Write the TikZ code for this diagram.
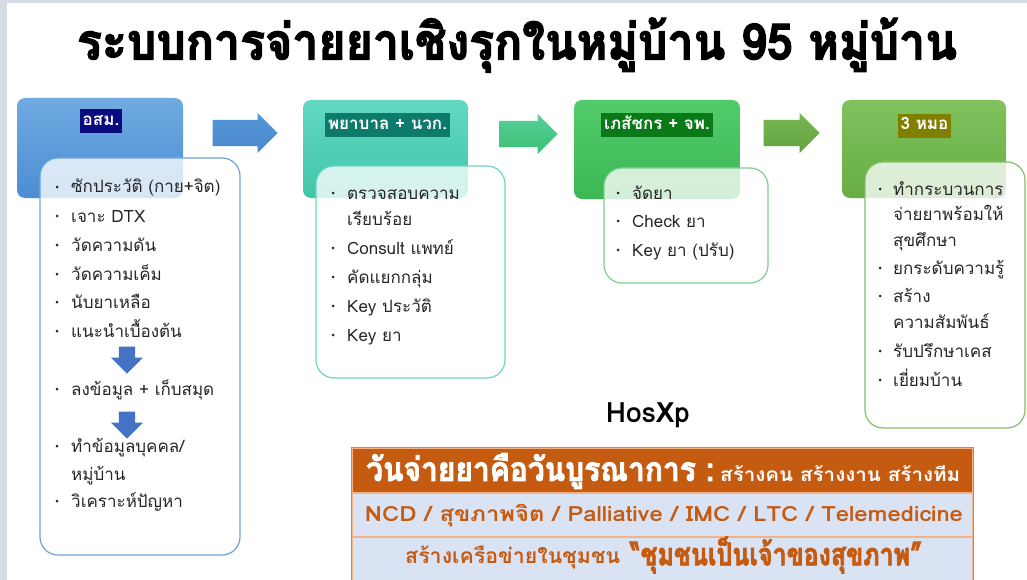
\documentclass[tikz,border=0pt]{standalone}
\usepackage{fontspec}
\setmainfont[Script=Thai]{Loma}
\newfontfamily\heavy[Script=Thai,FakeBold=2.6]{Loma Bold}
\usetikzlibrary{shapes.arrows}
\definecolor{bgframe}{HTML}{D6DCE5}
\definecolor{txt}{HTML}{262626}
\definecolor{b1top}{HTML}{6FAAE2}
\definecolor{b1bot}{HTML}{4C8DD3}
\definecolor{b1line}{HTML}{6FA3DC}
\definecolor{b2top}{HTML}{62D8C2}
\definecolor{b2bot}{HTML}{42C5AA}
\definecolor{b2line}{HTML}{6FD6C2}
\definecolor{b3top}{HTML}{52CB6A}
\definecolor{b3bot}{HTML}{3DB654}
\definecolor{b3line}{HTML}{7CCF8C}
\definecolor{b4top}{HTML}{80C25E}
\definecolor{b4bot}{HTML}{67AD45}
\definecolor{b4line}{HTML}{84C064}
\definecolor{lab1}{HTML}{0B0B80}
\definecolor{lab2}{HTML}{0E7A6C}
\definecolor{lab3}{HTML}{0A7A18}
\definecolor{lab4}{HTML}{7F7F00}
\definecolor{ar1}{HTML}{5597D8}
\definecolor{ar1b}{HTML}{4A88CC}
\definecolor{ar2}{HTML}{56D09A}
\definecolor{ar2b}{HTML}{3DBE74}
\definecolor{ar3}{HTML}{78B852}
\definecolor{ar3b}{HTML}{62A23E}
\definecolor{darr}{HTML}{4472C4}
\definecolor{orD}{HTML}{C55A11}
\definecolor{orL}{HTML}{F4B183}
\definecolor{orE}{HTML}{ED7D31}
\definecolor{rowbg}{HTML}{DAE3F3}
\tikzset{
  hdr/.style={rounded corners=8pt, inner sep=0pt},
  lab/.style={text=white, font=\bfseries\fontsize{17}{20}\selectfont, inner sep=3pt, text height=13pt, text depth=5pt},
  content/.style={rounded corners=18pt, fill=white, fill opacity=0.78, line width=1.2pt, inner sep=0pt},
  itm/.style={anchor=base west, inner sep=0pt, text=txt, font=\fontsize{17}{20}\selectfont},
  bul/.style={circle, fill=txt, inner sep=0pt, minimum size=3pt},
  rarrow/.style={single arrow, anchor=tip, single arrow head extend=7pt, single arrow head indent=0pt, inner xsep=0pt, inner ysep=13pt, text width=0pt},
  darrow/.style={single arrow, anchor=tip, rotate=270, single arrow head extend=8pt, single arrow head indent=0pt, inner xsep=0pt, inner ysep=8pt, text width=0pt, minimum height=27pt, fill=darr},
  trow/.style={draw=orL, line width=1.3pt, inner sep=0pt, minimum width=621pt},
}
\begin{document}
\begin{tikzpicture}[x=1pt,y=-1pt]
\useasboundingbox (0,0) rectangle (1027,580);
\clip (0,0) rectangle (1027,580);
\fill[bgframe] (0,0) rectangle (1027,580);
\fill[white] (7,3) rectangle (1027,580);
% title
\node[text=black] (title) at (517,45) {\resizebox{880pt}{\height}{\heavy\fontsize{50}{55}\selectfont ระบบการจ่ายยาเชิงรุกในหมู่บ้าน 95 หมู่บ้าน}};
% headers
\node[hdr, top color=b1top, bottom color=b1bot, minimum width=166pt, minimum height=100pt] (h1) at (100,148) {};
\node[hdr, top color=b2top, bottom color=b2bot, minimum width=165pt, minimum height=98pt] (h2) at (385.5,149) {};
\node[hdr, top color=b3top, bottom color=b3bot, minimum width=166pt, minimum height=99pt] (h3) at (657,149.5) {};
\node[hdr, top color=b4top, bottom color=b4bot, minimum width=164pt, minimum height=98pt] (h4) at (924,149) {};
\node[lab, fill=lab1] (h1t) at (101,121.5) {อสม.};
\node[lab, fill=lab2] (h2t) at (387.5,125.5) {พยาบาล + นวก.};
\node[lab, fill=lab3] (h3t) at (657,125.5) {เภสัชกร + จพ.};
\node[lab, fill=lab4] (h4t) at (924.5,126) {3 หมอ};
% arrows
\node[rarrow, top color=ar1, bottom color=ar1b, minimum height=65pt] (a1) at (278,133) {};
\node[rarrow, top color=ar2, bottom color=ar2b, minimum height=58pt] (a2) at (558,134) {};
\node[rarrow, top color=ar3, bottom color=ar3b, minimum height=56pt] (a3) at (820,133) {};
% content boxes
\node[content, draw=b1line, minimum width=200pt, minimum height=397pt] (c1) at (140,356.5) {};
\node[content, draw=b2line, minimum width=189pt, minimum height=212pt] (c2) at (410.5,272) {};
\node[content, draw=b3line, minimum width=164pt, minimum height=115pt] (c3) at (686,225.5) {};
\node[content, draw=b4line, minimum width=160pt, minimum height=266pt] (c4) at (945,295) {};
% box 1 items
\node[bul] (p1a) at (57,187) {}; \node[itm] (t1a) at (71,193) {ซักประวัติ (กาย+จิต)};
\node[bul] (p1b) at (57,216) {}; \node[itm] (t1b) at (71,222) {เจาะ DTX};
\node[bul] (p1c) at (57,245) {}; \node[itm] (t1c) at (71,251) {วัดความดัน};
\node[bul] (p1d) at (57,274) {}; \node[itm] (t1d) at (71,280) {วัดความเค็ม};
\node[bul] (p1e) at (57,302) {}; \node[itm] (t1e) at (71,308) {นับยาเหลือ};
\node[bul] (p1f) at (57,331) {}; \node[itm] (t1f) at (71,337) {แนะนำเบื้องต้น};
\node[darrow] (d1) at (127,374) {};
\node[bul] (p1g) at (57,389) {}; \node[itm] (t1g) at (71,395) {ลงข้อมูล + เก็บสมุด};
\node[darrow] (d2) at (127,439) {};
\node[bul] (p1h) at (57,446) {}; \node[itm] (t1h) at (71,452) {ทำข้อมูลบุคคล/};
\node[itm] (t1i) at (71,480) {หมู่บ้าน};
\node[bul] (p1j) at (57,501) {}; \node[itm] (t1j) at (71,507) {วิเคราะห์ปัญหา};
% box 2 items
\node[bul] (p2a) at (333,193) {}; \node[itm] (t2a) at (347,199) {ตรวจสอบความ};
\node[itm] (t2b) at (347,225) {เรียบร้อย};
\node[bul] (p2c) at (333,248) {}; \node[itm] (t2c) at (347,254) {Consult แพทย์};
\node[bul] (p2d) at (333,277) {}; \node[itm] (t2d) at (347,283) {คัดแยกกลุ่ม};
\node[bul] (p2e) at (333,306) {}; \node[itm] (t2e) at (347,312) {Key ประวัติ};
\node[bul] (p2f) at (333,335) {}; \node[itm] (t2f) at (347,341) {Key ยา};
% box 3 items
\node[bul] (p3a) at (618,193) {}; \node[itm] (t3a) at (632,199) {จัดยา};
\node[bul] (p3b) at (618,221) {}; \node[itm] (t3b) at (632,227) {Check ยา};
\node[bul] (p3c) at (618,250) {}; \node[itm] (t3c) at (632,256) {Key ยา (ปรับ)};
% box 4 items
\node[bul] (p4a) at (880,189) {}; \node[itm] (t4a) at (893,195) {ทำกระบวนการ};
\node[itm] (t4b) at (893,220) {จ่ายยาพร้อมให้};
\node[itm] (t4c) at (893,246) {สุขศึกษา};
\node[bul] (p4d) at (880,268) {}; \node[itm] (t4d) at (893,274) {ยกระดับความรู้};
\node[bul] (p4e) at (880,296) {}; \node[itm] (t4e) at (893,302) {สร้าง};
\node[itm] (t4f) at (893,328) {ความสัมพันธ์};
\node[bul] (p4g) at (880,351) {}; \node[itm] (t4g) at (893,357) {รับปรึกษาเคส};
\node[bul] (p4h) at (880,380) {}; \node[itm] (t4h) at (893,386) {เยี่ยมบ้าน};
% HosXp
\node[text=black, font=\bfseries\fontsize{28}{32}\selectfont] (hos) at (648,415) {HosXp};
% table
\node[trow, fill=orD, minimum height=45pt] (r1) at (662.5,470.5) {};
\node[trow, fill=rowbg, minimum height=44pt] (r2) at (662.5,515) {};
\node[trow, fill=rowbg, minimum height=48pt] (r3) at (662.5,561) {};
\draw[orE, line width=1.3pt] (r1.north west) rectangle (r3.south east);
\node[anchor=west, inner sep=0pt, text=white] (r1a) at (366,471) {\resizebox{348pt}{\height}{\heavy\fontsize{33}{36}\selectfont วันจ่ายยาคือวันบูรณาการ :}};
\node[anchor=west, inner sep=0pt, text=white] (r1b) at (720,473) {\resizebox{240pt}{\height}{\bfseries\fontsize{19}{22}\selectfont สร้างคน สร้างงาน สร้างทีม}};
\node[inner sep=0pt, text=orD] (r2t) at (664,516) {\resizebox{598pt}{\height}{\bfseries\fontsize{21}{24}\selectfont NCD / สุขภาพจิต / Palliative / IMC / LTC / Telemedicine}};
\node[anchor=west, inner sep=0pt, text=orD] (r3a) at (405,557) {\resizebox{215pt}{\height}{\bfseries\fontsize{21}{24}\selectfont สร้างเครือข่ายในชุมชน}};
\node[anchor=west, inner sep=0pt, text=orD] (r3b) at (630,555) {\resizebox{292pt}{\height}{\heavy\fontsize{31}{34}\selectfont “ชุมชนเป็นเจ้าของสุขภาพ”}};
\end{tikzpicture}
\end{document}
